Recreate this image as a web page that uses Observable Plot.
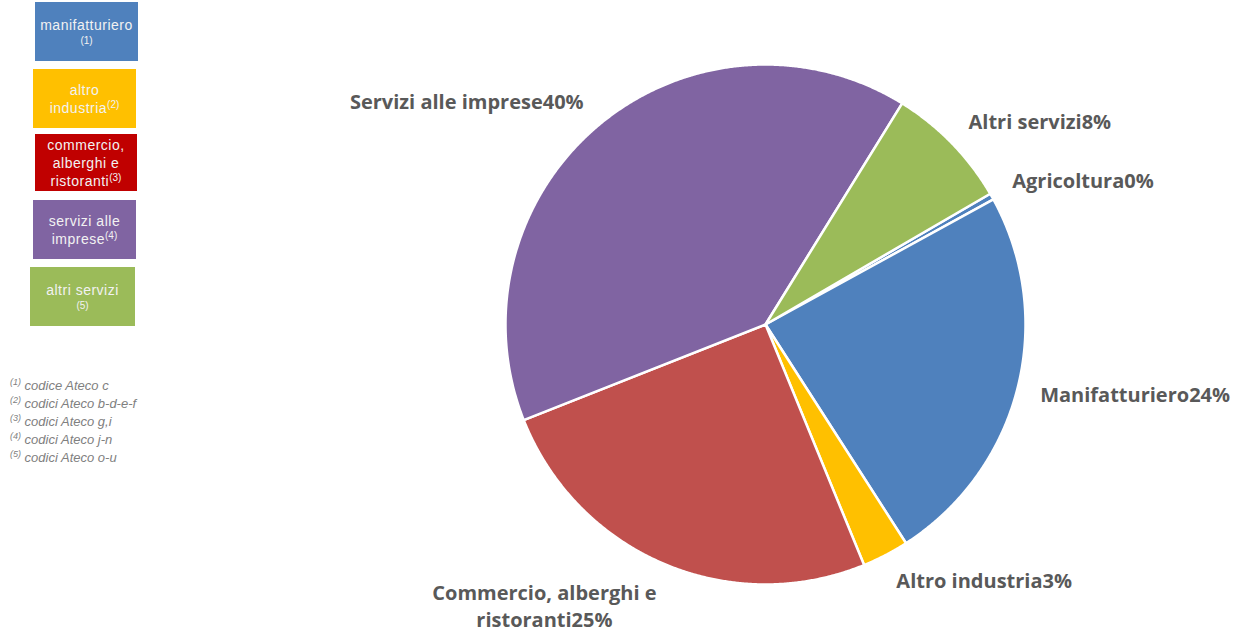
<!DOCTYPE html>
<html>
<head>
<meta charset="utf-8">
<script src="https://cdn.jsdelivr.net/npm/d3@7"></script>
<script src="https://cdn.jsdelivr.net/npm/@observablehq/plot@0.6"></script>
<style>
  body { margin: 0; background: #ffffff; }
  #wrap { position: relative; width: 1240px; height: 636px; overflow: hidden; }
  #chart { position: absolute; left: 0; top: 0; }
  .box { position: absolute; display: flex; align-items: center; justify-content: center; text-align: center;
         color: #f2f2f2; font-family: "Liberation Sans", Arial, sans-serif; font-size: 14px; line-height: 18px; letter-spacing: 0.5px; }
  .box sup { font-size: 10px; line-height: 0; vertical-align: 5px; letter-spacing: 0; }
  .box .n { font-size: 10px; line-height: 14px; display: block; letter-spacing: 0; }
  #notes { position: absolute; left: 10px; top: 377px; font-family: "Liberation Sans", Arial, sans-serif; font-style: italic;
           font-size: 13px; line-height: 18px; color: #808080; }
  #notes sup { font-size: 9px; line-height: 0; vertical-align: 5px; }
</style>
</head>
<body>
<div id="wrap">
  <div id="chart"></div>
  <div id="legend"></div>
  <div id="notes"></div>
</div>
<script>
// ---- data ----
const sectors = ["Agricoltura", "Manifatturiero", "Altro industria", "Commercio, alberghi e ristoranti", "Servizi alle imprese", "Altri servizi"];
const shares = [0.4, 23.9, 2.9, 25.2, 39.8, 7.8];
const sliceColors = ["#4F81BD", "#4F81BD", "#FFC000", "#C0504D", "#8064A2", "#9BBB59"];

const legendLabels = ["manifatturiero", "altro<br>industria", "commercio,<br>alberghi e<br>ristoranti", "servizi alle<br>imprese", "altri servizi"];
const legendNotes = ["(1)", "(2)", "(3)", "(4)", "(5)"];
const legendNoteInline = [false, true, true, true, false];
const legendColors = ["#4F81BD", "#FFC000", "#C00000", "#8064A2", "#9BBB59"];
const footnotes = ["codice Ateco c", "codici Ateco b-d-e-f", "codici Ateco g,i", "codici Ateco j-n", "codici Ateco o-u"];

// ---- layout ----
const cx = 765, cy = 324, R = 260;
const startDeg = 59.8;
const labelRx = 1.09, labelRy = 1.115;

const pie = d3.pie().sort(null).value(d => d.share)
  .startAngle(startDeg * Math.PI / 180)
  .endAngle(startDeg * Math.PI / 180 + 2 * Math.PI);
const rows = sectors.map((s, i) => ({name: s, share: shares[i]}));
const arcs = pie(rows);

const pts = [];
arcs.forEach(a => {
  pts.push({name: a.data.name, x: 0, y: 0});
  const n = Math.max(2, Math.ceil((a.endAngle - a.startAngle) / 0.005));
  for (let k = 0; k <= n; k++) {
    const t = a.startAngle + (a.endAngle - a.startAngle) * k / n;
    pts.push({name: a.data.name, x: Math.sin(t), y: Math.cos(t)});
  }
});

const labels = arcs.map(a => {
  const m = (a.startAngle + a.endAngle) / 2;
  return {name: a.data.name, text: a.data.name + Math.round(a.data.share) + "%",
          x: labelRx * Math.sin(m), y: labelRy * Math.cos(m), s: Math.sin(m), c: Math.cos(m)};
});
const mid = labels.filter(d => Math.abs(d.c) > 0.9);
const right = labels.filter(d => Math.abs(d.c) <= 0.9 && d.s > 0);
const left = labels.filter(d => Math.abs(d.c) <= 0.9 && d.s <= 0);

const font = {fontFamily: "'Open Sans', Lato, sans-serif", fontSize: 20, fontWeight: "bold", fill: "#595959"};

const chart = Plot.plot({
  width: 1240, height: 636, margin: 0,
  x: {domain: [-1, 1], range: [cx - R, cx + R], axis: null},
  y: {domain: [-1, 1], range: [cy + R, cy - R], axis: null},
  color: {domain: sectors, range: sliceColors},
  marks: [
    Plot.line(pts, {x: "x", y: "y", z: "name", fill: "name", stroke: "white", strokeWidth: 2.5, curve: "linear-closed"}),
    Plot.text(right, {x: "x", y: "y", text: "text", textAnchor: "start", ...font}),
    Plot.text(left, {x: "x", y: "y", text: "text", textAnchor: "end", ...font}),
    Plot.text(mid, {x: "x", y: "y", text: "text", textAnchor: "middle", lineAnchor: "top", lineWidth: 12, lineHeight: 1.35, dx: -110, dy: -10, ...font})
  ]
});
document.getElementById("chart").appendChild(chart);

// ---- legend boxes ----
const boxes = [
  {left: 35, top: 2, w: 103, h: 59},
  {left: 33, top: 69, w: 103, h: 59},
  {left: 35, top: 134, w: 102, h: 57},
  {left: 33, top: 200, w: 103, h: 59},
  {left: 30, top: 267, w: 105, h: 59}
];
const legend = document.getElementById("legend");
legendLabels.forEach((lab, i) => {
  const b = boxes[i];
  const d = document.createElement("div");
  d.className = "box";
  Object.assign(d.style, {left: b.left + "px", top: b.top + "px", width: b.w + "px", height: b.h + "px", background: legendColors[i]});
  d.innerHTML = legendNoteInline[i]
    ? `<div>${lab}<sup>${legendNotes[i]}</sup></div>`
    : `<div>${lab}<span class="n">${legendNotes[i]}</span></div>`;
  legend.appendChild(d);
});
document.getElementById("notes").innerHTML = footnotes.map((f, i) => `<sup>${legendNotes[i]}</sup> ${f}`).join("<br>");
</script>
</body>
</html>
